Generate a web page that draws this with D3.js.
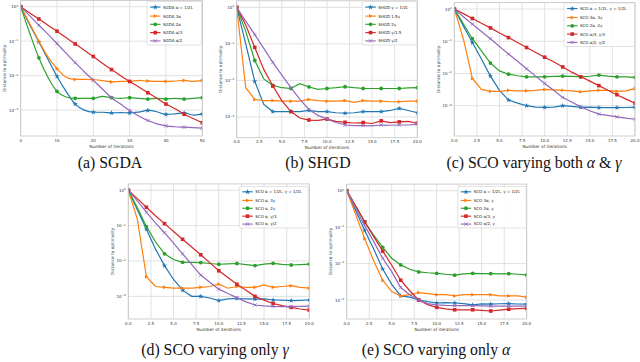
<!DOCTYPE html>
<html>
<head>
<meta charset="utf-8">
<script src="https://cdn.jsdelivr.net/npm/d3@7"></script>
<style>
  body { margin: 0; background: #fff; }
  svg { display: block; }
</style>
</head>
<body>
<div id="chart"></div>
<script>
// iterations
const itersA = d3.range(0, 50.01, 2.5);
const iters20 = d3.range(0, 21);

// (a) SGDA
const aBlue = [1, 0.3, 0.095, 0.03, 0.0095, 0.0035, 0.0015, 0.001, 0.00087, 0.00087, 0.00083, 0.00085, 0.00083, 0.00088, 0.00098, 0.0009, 0.00075, 0.00078, 0.00083, 0.00072, 0.00078];
const aOrange = [1, 0.32, 0.1, 0.035, 0.016, 0.009, 0.0078, 0.0078, 0.0076, 0.0072, 0.0066, 0.0068, 0.0068, 0.0073, 0.007, 0.0068, 0.0068, 0.007, 0.0073, 0.0068, 0.0073];
const aGreen = [1, 0.17, 0.033, 0.009, 0.0035, 0.0024, 0.0022, 0.0022, 0.0022, 0.0025, 0.0023, 0.0022, 0.0023, 0.0022, 0.0021, 0.0022, 0.0021, 0.0022, 0.0021, 0.0022, 0.0023];
const aRed = [1, 0.66, 0.44, 0.29, 0.195, 0.127, 0.083, 0.055, 0.036, 0.023, 0.015, 0.01, 0.0068, 0.0047, 0.0032, 0.0022, 0.0015, 0.0011, 0.00076, 0.00057, 0.00043];
const aPurple = [1, 0.54, 0.29, 0.16, 0.085, 0.045, 0.024, 0.013, 0.0073, 0.0041, 0.0023, 0.0015, 0.00098, 0.00068, 0.0005, 0.0004, 0.00035, 0.00033, 0.00032, 0.00031, 0.0003];

// (b) SHGD
const bBlue = [1, 0.1, 0.0094, 0.0022, 0.0014, 0.0014, 0.0014, 0.0014, 0.0015, 0.0014, 0.0014, 0.0013, 0.00126, 0.0013, 0.0014, 0.0014, 0.0014, 0.0015, 0.0017, 0.0015, 0.0013];
const bOrange = [1, 0.0063, 0.003, 0.0028, 0.0028, 0.0027, 0.0027, 0.0027, 0.003, 0.0028, 0.0027, 0.0027, 0.0028, 0.0025, 0.0028, 0.0027, 0.0027, 0.0026, 0.0026, 0.0027, 0.0027];
const bGreen = [1, 0.22, 0.035, 0.011, 0.0073, 0.0063, 0.006, 0.0081, 0.0066, 0.0057, 0.006, 0.0063, 0.0067, 0.0063, 0.006, 0.006, 0.006, 0.006, 0.006, 0.0062, 0.0063];
const bRed = [1, 0.33, 0.08, 0.02, 0.007, 0.0028, 0.0014, 0.00093, 0.00082, 0.0008, 0.00087, 0.00075, 0.00071, 0.00068, 0.0007, 0.00066, 0.00078, 0.0007, 0.00073, 0.00075, 0.00067];
const bPurple = [1, 0.42, 0.18, 0.075, 0.031, 0.014, 0.0063, 0.003, 0.0016, 0.0011, 0.00087, 0.0007, 0.0006, 0.00058, 0.00058, 0.00057, 0.0006, 0.00059, 0.0006, 0.0006, 0.00063];

// (c) SCO both
const cBlue = [1, 0.3, 0.091, 0.028, 0.0083, 0.003, 0.0015, 0.0012, 0.001, 0.0009, 0.00089, 0.0009, 0.001, 0.00095, 0.00089, 0.0009, 0.00087, 0.00088, 0.00087, 0.00088, 0.00089];
const cOrange = [1, 0.12, 0.007, 0.0032, 0.0028, 0.0028, 0.003, 0.0029, 0.0029, 0.003, 0.0032, 0.0031, 0.003, 0.0029, 0.0027, 0.0029, 0.003, 0.003, 0.0028, 0.0029, 0.0034];
const cGreen = [1, 0.35, 0.12, 0.05, 0.021, 0.012, 0.0095, 0.0085, 0.0079, 0.0079, 0.0079, 0.0081, 0.0083, 0.0081, 0.0079, 0.0082, 0.0089, 0.0083, 0.0079, 0.0078, 0.0076];
const cRed = [1, 0.72, 0.51, 0.36, 0.26, 0.18, 0.13, 0.091, 0.064, 0.045, 0.032, 0.023, 0.016, 0.011, 0.0079, 0.0058, 0.0042, 0.003, 0.0022, 0.0016, 0.0012];
const cPurple = [1, 0.58, 0.34, 0.2, 0.12, 0.069, 0.04, 0.024, 0.014, 0.0083, 0.0049, 0.003, 0.0018, 0.0013, 0.00092, 0.0007, 0.00055, 0.0005, 0.00045, 0.00041, 0.00038];

// (d) SCO only gamma
const dBlue = [1, 0.28, 0.079, 0.022, 0.0074, 0.003, 0.0015, 0.001, 0.001, 0.0009, 0.00076, 0.00085, 0.00087, 0.00085, 0.00084, 0.00085, 0.00079, 0.00078, 0.00076, 0.00077, 0.00079];
const dOrange = [1, 0.15, 0.0036, 0.0019, 0.0018, 0.0017, 0.0017, 0.0017, 0.0018, 0.0019, 0.0022, 0.0017, 0.0019, 0.0018, 0.0018, 0.0021, 0.0018, 0.0019, 0.002, 0.0018, 0.0017];
const dGreen = [1, 0.32, 0.094, 0.035, 0.016, 0.011, 0.0092, 0.0092, 0.009, 0.0085, 0.0081, 0.0083, 0.0085, 0.0079, 0.0074, 0.0082, 0.0086, 0.008, 0.0077, 0.0079, 0.0082];
const dRed = [1, 0.58, 0.33, 0.19, 0.114, 0.068, 0.041, 0.025, 0.015, 0.009, 0.0053, 0.0034, 0.0022, 0.0015, 0.001, 0.00078, 0.00063, 0.00055, 0.00049, 0.00044, 0.00041];
const dPurple = [1, 0.5, 0.24, 0.12, 0.063, 0.032, 0.016, 0.008, 0.004, 0.0025, 0.0016, 0.0012, 0.00092, 0.0007, 0.00057, 0.00054, 0.00052, 0.00051, 0.00051, 0.00052, 0.00053];

// (e) SCO only alpha
const eBlue = [1, 0.28, 0.081, 0.025, 0.0071, 0.0027, 0.0013, 0.0012, 0.001, 0.0009, 0.00083, 0.00085, 0.00083, 0.0008, 0.00074, 0.00078, 0.00077, 0.00079, 0.0008, 0.00078, 0.00077];
const eOrange = [1, 0.22, 0.048, 0.012, 0.0035, 0.0017, 0.0013, 0.0014, 0.0016, 0.0015, 0.0014, 0.0014, 0.0013, 0.0014, 0.0014, 0.0014, 0.0014, 0.0013, 0.0013, 0.0013, 0.0012];
const eGreen = [1, 0.38, 0.14, 0.06, 0.028, 0.014, 0.0092, 0.007, 0.0059, 0.0056, 0.0054, 0.0051, 0.0048, 0.0052, 0.0054, 0.0053, 0.0053, 0.0052, 0.0053, 0.0051, 0.0049];
const eRed = [1, 0.38, 0.14, 0.055, 0.022, 0.009, 0.0035, 0.0018, 0.001, 0.00075, 0.00063, 0.00057, 0.00054, 0.00054, 0.00054, 0.00052, 0.0005, 0.00053, 0.00056, 0.00058, 0.00059];
const ePurple = [1, 0.33, 0.11, 0.04, 0.014, 0.006, 0.0022, 0.0014, 0.001, 0.0008, 0.00074, 0.00071, 0.0007, 0.0007, 0.0007, 0.00069, 0.00068, 0.00068, 0.00068, 0.00068, 0.00068];

// legend labels
const labelsA = ['SGDA α = 1/2L', 'SGDA 3α', 'SGDA 2α', 'SGDA α/3', 'SGDA α/2'];
const labelsB = ['SHGD γ = 1/2L', 'SHGD 1.5γ', 'SHGD 2γ', 'SHGD γ/1.5', 'SHGD γ/2'];
const labelsC = ['SCO α = 1/2L, γ = 1/2L', 'SCO 3α, 3γ', 'SCO 2α, 2γ', 'SCO α/3, γ/3', 'SCO α/2, γ/2'];
const labelsD = ['SCO α = 1/2L, γ = 1/2L', 'SCO α, 3γ', 'SCO α, 2γ', 'SCO α, γ/3', 'SCO α, γ/2'];
const labelsE = ['SCO α = 1/2L, γ = 1/2L', 'SCO 3α, γ', 'SCO 2α, γ', 'SCO α/3, γ', 'SCO α/2, γ'];

const xTicksA = [0, 10, 20, 30, 40, 50];
const xTicks20 = [0, 2.5, 5, 7.5, 10, 12.5, 15, 17.5, 20];
const yTickExps = [0, -1, -2, -3];

const colors = ['#1f77b4', '#ff7f0e', '#2ca02c', '#d62728', '#9467bd'];
const symbols = ['star', 'tri', 'circle', 'square', 'cross'];

const width = 640;
const height = 362;

const svg = d3.select('#chart')
  .append('svg')
  .attr('width', width)
  .attr('height', height)
  .style('font-family', 'DejaVu Sans, sans-serif');

function drawMarker(g, type, x, y, color) {
  if (type === 'tri') {
    g.append('path')
      .attr('d', `M${x + 2},${y} L${x - 1.5},${y - 2} L${x - 1.5},${y + 2} Z`)
      .attr('fill', color);
  } else if (type === 'circle') {
    g.append('circle').attr('cx', x).attr('cy', y).attr('r', 1.9).attr('fill', color);
  } else if (type === 'square') {
    g.append('rect').attr('x', x - 1.8).attr('y', y - 1.8).attr('width', 3.6).attr('height', 3.6).attr('fill', color);
  } else if (type === 'cross') {
    g.append('path')
      .attr('d', `M${x - 1.7},${y - 1.7}L${x + 1.7},${y + 1.7}M${x - 1.7},${y + 1.7}L${x + 1.7},${y - 1.7}`)
      .attr('stroke', color).attr('stroke-width', 0.8);
  } else {
    g.append('path')
      .attr('d', d3.symbol(d3.symbolStar, 9)())
      .attr('transform', `translate(${x},${y})`)
      .attr('fill', color);
  }
}

function drawPanel(p) {
  const x = d3.scaleLinear().domain([0, p.xMax]).range([p.left, p.right]);
  const y = d3.scaleLog().domain([Math.pow(10, p.topExp), Math.pow(10, p.botExp)]).range([p.top, p.bottom]);
  const g = svg.append('g');

  // grid
  g.selectAll('.gx').data(p.xTicks).enter().append('line')
    .attr('x1', (d) => x(d)).attr('x2', (d) => x(d))
    .attr('y1', p.top).attr('y2', p.bottom)
    .attr('stroke', '#dedede').attr('stroke-width', 0.9);
  g.selectAll('.gy').data(yTickExps).enter().append('line')
    .attr('x1', p.left).attr('x2', p.right)
    .attr('y1', (d) => y(Math.pow(10, d))).attr('y2', (d) => y(Math.pow(10, d)))
    .attr('stroke', '#dedede').attr('stroke-width', 0.9);

  const clipId = 'clip' + p.id;
  svg.append('clipPath').attr('id', clipId).append('rect')
    .attr('x', p.left).attr('y', p.top)
    .attr('width', p.right - p.left).attr('height', p.bottom - p.top);

  const plot = g.append('g').attr('clip-path', `url(#${clipId})`);
  const line = d3.line()
    .x((d) => x(d[0]))
    .y((d) => y(d[1]))
    .curve(p.smooth ? d3.curveMonotoneX : d3.curveLinear);

  p.series.forEach((vals, i) => {
    const pts = vals.map((v, k) => [p.xs[k], v]);
    plot.append('path')
      .datum(pts)
      .attr('d', line)
      .attr('fill', 'none')
      .attr('stroke', colors[i])
      .attr('stroke-width', 1.2);
    pts.forEach((d, k) => {
      if (k % 2 === 0) drawMarker(plot, symbols[i], x(d[0]), y(d[1]), colors[i]);
    });
  });

  // frame
  g.append('rect')
    .attr('x', p.left).attr('y', p.top)
    .attr('width', p.right - p.left).attr('height', p.bottom - p.top)
    .attr('fill', 'none').attr('stroke', '#c4c4c4').attr('stroke-width', 0.8);

  // tick labels
  g.selectAll('.tx').data(p.xTicks).enter().append('text')
    .attr('x', (d) => x(d)).attr('y', p.bottom + 5.5)
    .attr('text-anchor', 'middle')
    .attr('font-size', 4)
    .attr('fill', '#333')
    .text((d) => p.xFmt(d));

  yTickExps.forEach((e) => {
    const t = g.append('text')
      .attr('x', p.left - 2.5).attr('y', y(Math.pow(10, e)) + 1.5)
      .attr('text-anchor', 'end')
      .attr('font-size', 4)
      .attr('fill', '#333');
    t.append('tspan').text('10');
    t.append('tspan').attr('font-size', 2.8).attr('dy', -1.6).text(e === 0 ? '0' : '−' + (-e));
  });

  g.append('text')
    .attr('x', (p.left + p.right) / 2).attr('y', p.bottom + 11.5)
    .attr('text-anchor', 'middle').attr('font-size', 4.3).attr('fill', '#333')
    .text('Number of iterations');

  g.append('text')
    .attr('transform', `translate(${p.left - 14.5},${(p.top + p.bottom) / 2}) rotate(-90)`)
    .attr('text-anchor', 'middle').attr('font-size', 4.3).attr('fill', '#333')
    .text('Distance to optimality');

  // legend
  const L = p.legend;
  const lg = g.append('g');
  lg.append('rect')
    .attr('x', L.x).attr('y', L.y).attr('width', L.w).attr('height', L.h)
    .attr('rx', 1.2)
    .attr('fill', 'rgba(255,255,255,0.85)').attr('stroke', '#d0d0d0').attr('stroke-width', 0.6);
  const rows = [5.6, 14.6, 22.8, 31.1, 39.4].map((r) => r * L.h / 43.5);
  p.labels.forEach((lab, i) => {
    const ry = L.y + rows[i];
    lg.append('line')
      .attr('x1', L.x + 3).attr('x2', L.x + 13.5)
      .attr('y1', ry).attr('y2', ry)
      .attr('stroke', colors[i]).attr('stroke-width', 1.1);
    drawMarker(lg, symbols[i], L.x + 8.25, ry, colors[i]);
    lg.append('text')
      .attr('x', L.x + 16).attr('y', ry + 1.4)
      .attr('font-size', 4).attr('fill', '#222')
      .text(lab);
  });

  // caption
  const cap = svg.append('text')
    .attr('x', p.capX).attr('y', p.capY)
    .attr('text-anchor', 'middle')
    .attr('font-family', 'Liberation Serif, serif')
    .attr('font-size', 15.8)
    .attr('fill', '#111');
  p.caption.forEach((c) => {
    cap.append('tspan').attr('font-style', c.it ? 'italic' : 'normal').text(c.t);
  });
}

const fmt0 = (d) => String(d);
const fmt1 = d3.format('.1f');

drawPanel({
  id: 'a', left: 20.7, right: 202.3, top: 0.5, bottom: 136, topExp: 0.18, botExp: -3.75,
  xMax: 50, xs: itersA, smooth: true, xTicks: xTicksA, xFmt: fmt0,
  series: [aBlue, aOrange, aGreen, aRed, aPurple], labels: labelsA,
  legend: { x: 147, y: 1.5, w: 54.5, h: 43.5 },
  capX: 110, capY: 168, caption: [{ t: '(a) SGDA' }]
});

drawPanel({
  id: 'b', left: 236.7, right: 417.3, top: 0.8, bottom: 137.7, topExp: 0.18, botExp: -3.57,
  xMax: 20, xs: iters20, smooth: false, xTicks: xTicks20, xFmt: fmt1,
  series: [bBlue, bOrange, bGreen, bRed, bPurple], labels: labelsB,
  legend: { x: 362.3, y: 1.5, w: 54.5, h: 43.5 },
  capX: 318, capY: 168, caption: [{ t: '(b) SHGD' }]
});

drawPanel({
  id: 'c', left: 454.3, right: 635, top: 2.6, bottom: 136, topExp: 0.2, botExp: -3.94,
  xMax: 20, xs: iters20, smooth: false, xTicks: xTicks20, xFmt: fmt1,
  series: [cBlue, cOrange, cGreen, cRed, cPurple], labels: labelsC,
  legend: { x: 564, y: 3, w: 70.5, h: 43.5 },
  capX: 534, capY: 168,
  caption: [{ t: '(c) SCO varying both ' }, { t: 'α', it: true }, { t: ' & ' }, { t: 'γ', it: true }]
});

drawPanel({
  id: 'd', left: 128.3, right: 309.3, top: 183.9, bottom: 319, topExp: 0.18, botExp: -3.64,
  xMax: 20, xs: iters20, smooth: false, xTicks: xTicks20, xFmt: fmt1,
  series: [dBlue, dOrange, dGreen, dRed, dPurple], labels: labelsD,
  legend: { x: 239.3, y: 186.5, w: 69, h: 41.5 },
  capX: 215, capY: 355,
  caption: [{ t: '(d) SCO varying only ' }, { t: 'γ', it: true }]
});

drawPanel({
  id: 'e', left: 346.7, right: 526.7, top: 184.1, bottom: 319, topExp: 0.18, botExp: -3.52,
  xMax: 20, xs: iters20, smooth: false, xTicks: xTicks20, xFmt: fmt1,
  series: [eBlue, eOrange, eGreen, eRed, ePurple], labels: labelsE,
  legend: { x: 457.7, y: 186.5, w: 68.5, h: 41.5 },
  capX: 436, capY: 355,
  caption: [{ t: '(e) SCO varying only ' }, { t: 'α', it: true }]
});
</script>
</body>
</html>
